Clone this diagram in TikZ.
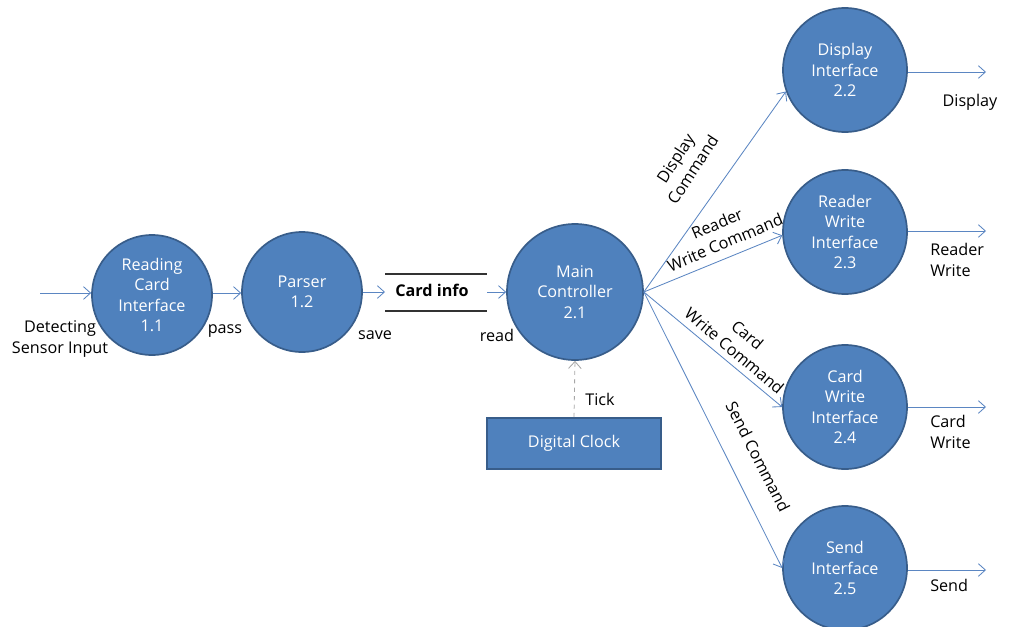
\documentclass[tikz,border=0pt]{standalone}
\usepackage{fontspec}
\setmainfont{Open Sans}
\usetikzlibrary{arrows.meta}
\definecolor{procfill}{HTML}{4F81BD}
\definecolor{procline}{HTML}{385D8A}
\definecolor{flowline}{HTML}{5B86C2}
\tikzset{
  proc/.style={circle, fill=procfill, draw=procline, line width=1.2pt, text=white,
    align=center, inner sep=0pt, font=\fontsize{11.5}{14.6}\selectfont},
  flow/.style={draw=flowline, line width=0.6pt, -{Straight Barb[length=5pt,width=9pt]}},
  tickflow/.style={draw=gray!70, dashed, line width=0.6pt, -{Straight Barb[length=5pt,width=9pt]}},
  lbl/.style={text=black, align=center, inner sep=0pt, font=\fontsize{11.5}{14.6}\selectfont},
  lbll/.style={text=black, align=left, inner sep=0pt, font=\fontsize{11.5}{14.6}\selectfont},
}
\begin{document}
\begin{tikzpicture}[x=0.025cm,y=-0.025cm]
\useasboundingbox (0,0) rectangle (1012,626);
% processes
\node[proc, minimum size=120*0.025cm] (p11) at (152,295) {Reading\\Card\\Interface\\1.1};
\node[proc, minimum size=120*0.025cm] (p12) at (302,292) {Parser\\1.2};
\node[proc, minimum size=136*0.025cm] (p21) at (575,292) {Main\\Controller\\2.1};
\node[proc, minimum size=124*0.025cm] (p22) at (845,70) {Display\\Interface\\2.2};
\node[proc, minimum size=124*0.025cm] (p23) at (845,232) {Reader\\Write\\Interface\\2.3};
\node[proc, minimum size=124*0.025cm] (p24) at (845,407) {Card\\Write\\Interface\\2.4};
\node[proc, minimum size=124*0.025cm] (p25) at (845,568) {Send\\Interface\\2.5};
% clock
\node[fill=procfill, draw=procline, line width=1.2pt, text=white, minimum width=174*0.025cm,
  minimum height=51*0.025cm, inner sep=0pt, font=\fontsize{11.5}{14.6}\selectfont] (clk) at (574,443.5) {Digital Clock};
% data store
\coordinate (dsl) at (385,292);
\coordinate (dsr) at (487,292);
\draw[line width=0.8pt, black!80] (385,274) -- (487,274);
\draw[line width=0.8pt, black!80] (385,311) -- (487,311);
\node[font=\bfseries\fontsize{11.5}{14}\selectfont, inner sep=0pt] (ds) at (432,290) {Card info};
% input
\coordinate (in) at (40,293);
\draw[flow] (in) -- (p11.west |- in);
\node[lbl] (lin) at (60,339) {Detecting\\Sensor Input};
\draw[flow] (p11.east |- 0,293) -- (p12.west |- 0,293);
\node[lbl] (lpass) at (225,331) {pass};
\draw[flow] (p12.east) -- (dsl);
\node[lbl] (lsave) at (375,335) {save};
\draw[flow] (dsr) -- (p21.west);
\node[lbl] (lread) at (497,335) {read};
% tick
\draw[tickflow] (clk.north) -- (p21.south);
\node[lbl] (ltick) at (600,399) {Tick};
% commands
\draw[flow] (p21.east) -- (p22.200);
\draw[flow] (p21.east) -- (p23.183);
\draw[flow] (p21.east) -- (p24.180);
\draw[flow] (p21.east) -- (p25.180);
\node[lbl, rotate=57] (ldc) at (684,164) {Display\\Command};
\node[lbl, rotate=23] (lrc) at (721,233) {Reader\\Write Command};
\node[lbl, rotate=-40] (lcc) at (741,343) {Card\\Write Command};
\node[lbl, rotate=-63] (lsc) at (758,457) {Send Command};
% outputs
\coordinate (o22) at (986,72);
\coordinate (o23) at (986,231);
\coordinate (o24) at (986,407);
\coordinate (o25) at (986,570);
\draw[flow] (p22.east |- o22) -- (o22);
\draw[flow] (p23.east |- o23) -- (o23);
\draw[flow] (p24.east |- o24) -- (o24);
\draw[flow] (p25.east |- o25) -- (o25);
\node[lbl] (ld) at (970,102) {Display};
\node[lbll, anchor=west] (lrw) at (930,260) {Reader\\Write};
\node[lbll, anchor=west] (lcw) at (930,432) {Card\\Write};
\node[lbll, anchor=west] (lsd) at (930,585) {Send};
\end{tikzpicture}
\end{document}
